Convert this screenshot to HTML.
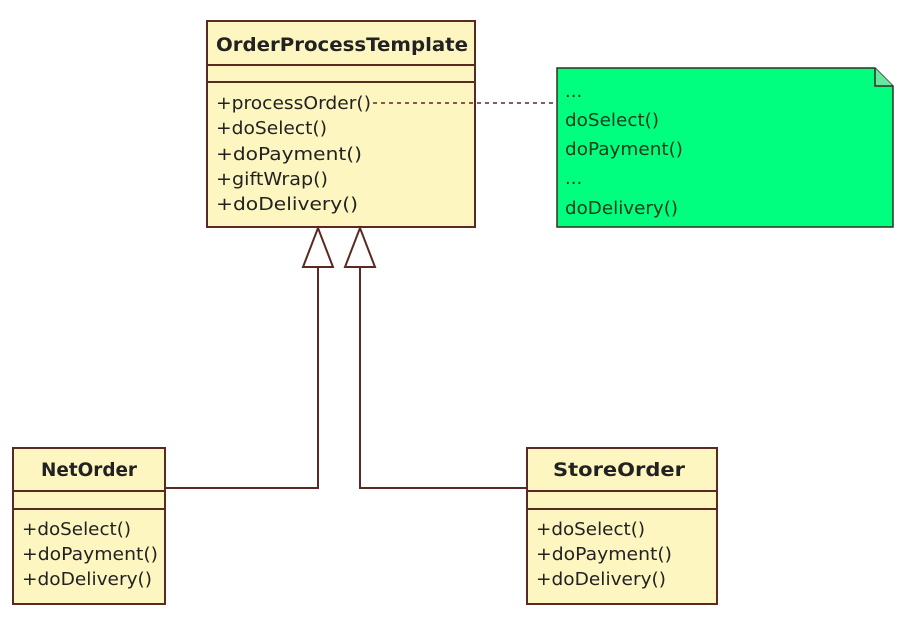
<!DOCTYPE html>
<html><head><meta charset="utf-8"><style>
body{margin:0;background:#fff;width:910px;height:628px;overflow:hidden}
svg text{font-family:"DejaVu Sans","Liberation Sans",sans-serif;font-size:18px;fill:#222}
</style></head><body>
<svg width="910" height="628" xmlns="http://www.w3.org/2000/svg">
<g stroke="#5a2a22" stroke-width="2" fill="#fdf6c0">
<rect x="207" y="21" width="268" height="206"/>
<line x1="207" y1="65" x2="475" y2="65"/>
<line x1="207" y1="82" x2="475" y2="82"/>
<rect x="13" y="448" width="152" height="156"/>
<line x1="13" y1="491" x2="165" y2="491"/>
<line x1="13" y1="509" x2="165" y2="509"/>
<rect x="527" y="448" width="190" height="156"/>
<line x1="527" y1="491" x2="717" y2="491"/>
<line x1="527" y1="509" x2="717" y2="509"/>
</g>
<g stroke="#3a2a20" stroke-width="1.5" fill="#00ff7f">
<path d="M557 68 H875 L893 86 V227 H557 Z"/>
<path d="M875 68 V86 H893" fill="#66e6a0"/>
</g>
<g stroke="#5a2a22" stroke-width="2" fill="none">
<path d="M318 267 V488 H165"/>
<path d="M360 267 V488 H527"/>
<path d="M318 228 L303 267 H333 Z" fill="#fff"/>
<path d="M360 228 L345 267 H375 Z" fill="#fff"/>
</g>
<line x1="373" y1="103" x2="557" y2="103" stroke="#5a2a22" stroke-width="1.5" stroke-dasharray="4,4"/>
<text x="216" y="51" textLength="252" lengthAdjust="spacingAndGlyphs" style="font-weight:bold;font-size:19px">OrderProcessTemplate</text>
<text x="216" y="109" textLength="155" lengthAdjust="spacingAndGlyphs">+processOrder()</text>
<text x="216" y="134" textLength="111" lengthAdjust="spacingAndGlyphs">+doSelect()</text>
<text x="216" y="160" textLength="146" lengthAdjust="spacingAndGlyphs">+doPayment()</text>
<text x="216" y="185" textLength="112" lengthAdjust="spacingAndGlyphs">+giftWrap()</text>
<text x="216" y="210" textLength="142" lengthAdjust="spacingAndGlyphs">+doDelivery()</text>
<text x="41" y="476" textLength="96" lengthAdjust="spacingAndGlyphs" style="font-weight:bold;font-size:19px">NetOrder</text>
<text x="22" y="535" textLength="109" lengthAdjust="spacingAndGlyphs">+doSelect()</text>
<text x="22" y="560" textLength="136" lengthAdjust="spacingAndGlyphs">+doPayment()</text>
<text x="22" y="585" textLength="130" lengthAdjust="spacingAndGlyphs">+doDelivery()</text>
<text x="553" y="476" textLength="132" lengthAdjust="spacingAndGlyphs" style="font-weight:bold;font-size:19px">StoreOrder</text>
<text x="536" y="535" textLength="109" lengthAdjust="spacingAndGlyphs">+doSelect()</text>
<text x="536" y="560" textLength="136" lengthAdjust="spacingAndGlyphs">+doPayment()</text>
<text x="536" y="585" textLength="130" lengthAdjust="spacingAndGlyphs">+doDelivery()</text>
<text x="565" y="97" style="fill:#1a3a1a">...</text>
<text x="565" y="126" textLength="94" lengthAdjust="spacingAndGlyphs" style="fill:#1a3a1a">doSelect()</text>
<text x="565" y="155" textLength="118" lengthAdjust="spacingAndGlyphs" style="fill:#1a3a1a">doPayment()</text>
<text x="565" y="184" style="fill:#1a3a1a">...</text>
<text x="565" y="214" textLength="113" lengthAdjust="spacingAndGlyphs" style="fill:#1a3a1a">doDelivery()</text>
</svg>
</body></html>
